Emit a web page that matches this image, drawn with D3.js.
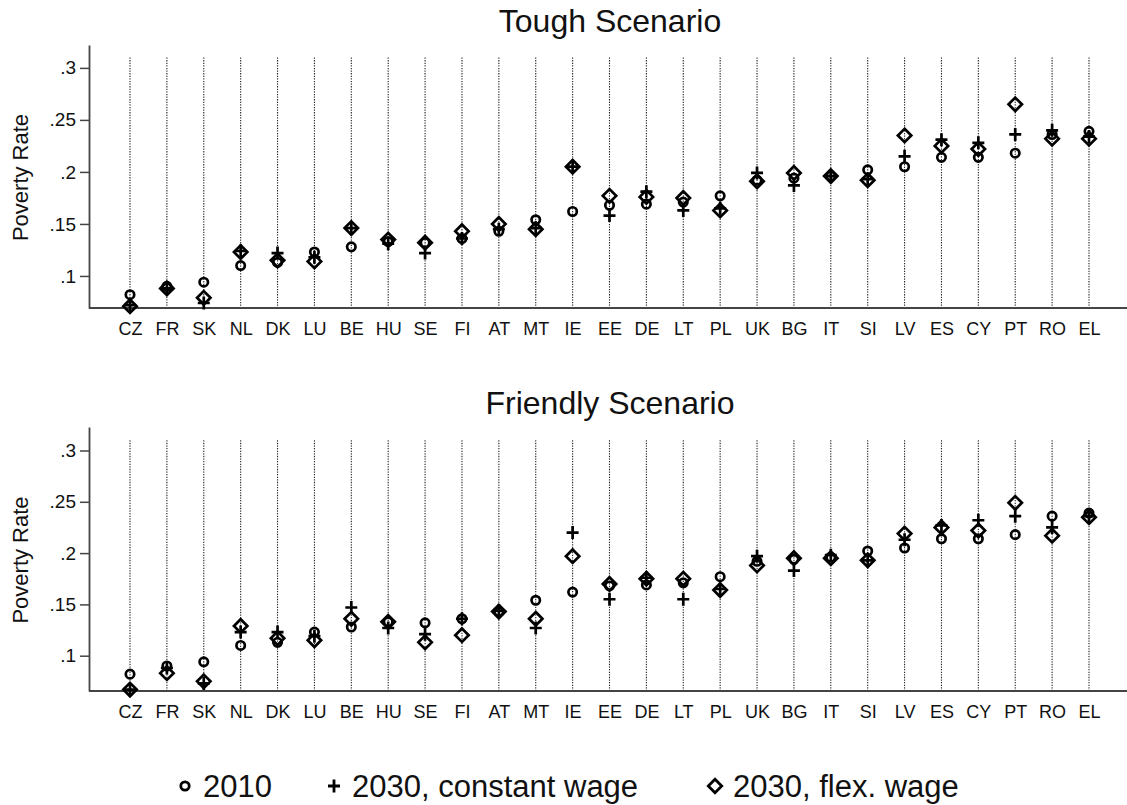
<!DOCTYPE html>
<html>
<head>
<meta charset="utf-8">
<script src="https://cdn.jsdelivr.net/npm/d3@7"></script>
<style>
    body { margin: 0; background: #fff; }
    svg { display: block; font-family: "Liberation Sans", Arial, sans-serif; }
</style>
</head>
<body>
<div id="chart_div"></div>
<script>
const countries = ["CZ", "FR", "SK", "NL", "DK", "LU", "BE", "HU", "SE", "FI", "AT", "MT", "IE", "EE",
    "DE", "LT", "PL", "UK", "BG", "IT", "SI", "LV", "ES", "CY", "PT", "RO", "EL"];

// 2010 is the base year, same in both scenarios
const rate2010 = [0.082, 0.090, 0.094, 0.110, 0.113, 0.123, 0.128, 0.133, 0.132, 0.136, 0.143, 0.154, 0.162, 0.168,
    0.169, 0.171, 0.177, 0.192, 0.194, 0.196, 0.202, 0.205, 0.214, 0.214, 0.218, 0.236, 0.239];

const toughConst = [0.072, 0.088, 0.074, 0.124, 0.122, 0.118, 0.146, 0.131, 0.122, 0.136, 0.145, 0.146, 0.205, 0.158,
    0.181, 0.163, 0.165, 0.199, 0.187, 0.196, 0.193, 0.215, 0.231, 0.228, 0.236, 0.240, 0.234];
const toughFlex = [0.071, 0.088, 0.079, 0.123, 0.115, 0.114, 0.146, 0.135, 0.132, 0.143, 0.150, 0.145, 0.205, 0.177,
    0.176, 0.175, 0.163, 0.191, 0.199, 0.196, 0.192, 0.235, 0.225, 0.222, 0.265, 0.232, 0.232];

const friendlyConst = [0.067, 0.088, 0.073, 0.123, 0.123, 0.119, 0.147, 0.127, 0.121, 0.136, 0.144, 0.127, 0.220, 0.155,
    0.176, 0.155, 0.165, 0.197, 0.183, 0.198, 0.193, 0.213, 0.227, 0.232, 0.236, 0.225, 0.236];
const friendlyFlex = [0.067, 0.083, 0.075, 0.129, 0.117, 0.115, 0.136, 0.133, 0.113, 0.120, 0.143, 0.136, 0.197, 0.170,
    0.175, 0.175, 0.164, 0.188, 0.195, 0.195, 0.193, 0.219, 0.225, 0.222, 0.249, 0.217, 0.235];

const yTicks = [0.1, 0.15, 0.2, 0.25, 0.3];
const legendLabels = ["2010", "2030, constant wage", "2030, flex. wage"];

const width = 1127;
const height = 805;
const left = 89;
const axisColor = "#444";
const textColor = "#111";

const x = d3.scalePoint()
    .domain(countries)
    .range([130, 1089]);

const panels = [
    { title: "Tough Scenario", top: 45, bottom: 308, domain: [0.0692, 0.322], cons: toughConst, flex: toughFlex },
    { title: "Friendly Scenario", top: 427, bottom: 691, domain: [0.0656, 0.3229], cons: friendlyConst, flex: friendlyFlex }
];

const circlePath = "M4.2,0A4.2,4.2 0 1,1 -4.2,0A4.2,4.2 0 1,1 4.2,0Z";
const plusPath = "M-6,0H6M0,-6.5V6.5";
const diamondPath = "M0,-6.7L6.7,0L0,6.7L-6.7,0Z";

const svg = d3.select("#chart_div")
    .append("svg")
    .attr("width", width)
    .attr("height", height);

const drawPanel = (g, p) => {
    const y = d3.scaleLinear()
        .domain(p.domain)
        .range([p.bottom, p.top]);

    // dotted guide per country
    g.append("g")
        .selectAll("line")
        .data(countries)
        .enter()
        .append("line")
        .attr("x1", d => x(d))
        .attr("x2", d => x(d))
        .attr("y1", y(0.31))
        .attr("y2", p.bottom)
        .attr("stroke", "#222")
        .attr("stroke-width", 1.1)
        .attr("stroke-dasharray", "1.3,1.3");

    const yAxis = g.append("g")
        .attr("transform", `translate(${left},0)`)
        .call(d3.axisLeft(y)
            .tickValues(yTicks)
            .tickSize(9)
            .tickSizeOuter(0)
            .tickPadding(4)
            .tickFormat(d => d3.format(".2~f")(d).replace(/^0/, "")));
    yAxis.select(".domain").attr("stroke", axisColor).attr("stroke-width", 1.8);
    yAxis.selectAll(".tick line").attr("stroke", axisColor).attr("stroke-width", 1.5);
    yAxis.selectAll(".tick text")
        .attr("fill", textColor)
        .style("font-size", "19px");

    const xAxis = g.append("g")
        .attr("transform", `translate(0,${p.bottom})`)
        .call(d3.axisBottom(x).tickSize(0).tickPadding(14));
    xAxis.select(".domain").remove();
    xAxis.selectAll(".tick text")
        .attr("fill", textColor)
        .style("font-size", "18px");

    g.append("line")
        .attr("x1", left)
        .attr("x2", width)
        .attr("y1", p.bottom)
        .attr("y2", p.bottom)
        .attr("stroke", axisColor)
        .attr("stroke-width", 1.8);

    g.append("text")
        .attr("x", (left + width) / 2 + 2)
        .attr("y", p.top - 13)
        .attr("text-anchor", "middle")
        .attr("fill", textColor)
        .style("font-size", "32px")
        .text(p.title);

    g.append("text")
        .attr("transform", `translate(28,${(p.top + p.bottom) / 2 + 1}) rotate(-90)`)
        .attr("text-anchor", "middle")
        .attr("fill", textColor)
        .style("font-size", "22px")
        .text("Poverty Rate");

    const series = [
        { vals: rate2010, path: circlePath },
        { vals: p.cons, path: plusPath },
        { vals: p.flex, path: diamondPath }
    ];

    series.forEach(s => {
        g.append("g")
            .selectAll("path")
            .data(countries)
            .enter()
            .append("path")
            .attr("transform", (d, i) => `translate(${x(d)},${y(s.vals[i])})`)
            .attr("d", s.path)
            .attr("fill", "none")
            .attr("stroke", "#000")
            .attr("stroke-width", 2.7);
    });
};

panels.forEach(p => svg.append("g").call(drawPanel, p));

// legend
const legend = (g) => {
    const items = [
        { label: legendLabels[0], path: circlePath, mx: 185, tx: 203 },
        { label: legendLabels[1], path: plusPath, mx: 334, tx: 352 },
        { label: legendLabels[2], path: diamondPath, mx: 715, tx: 733 }
    ];
    const leg = g.append("g").attr("id", "legend");
    items.forEach(it => {
        leg.append("path")
            .attr("transform", `translate(${it.mx},786)`)
            .attr("d", it.path)
            .attr("fill", "none")
            .attr("stroke", "#000")
            .attr("stroke-width", 2.8);
        leg.append("text")
            .attr("x", it.tx)
            .attr("y", 797)
            .attr("fill", textColor)
            .style("font-size", "31px")
            .text(it.label);
    });
};

svg.call(legend);
</script>
</body>
</html>
